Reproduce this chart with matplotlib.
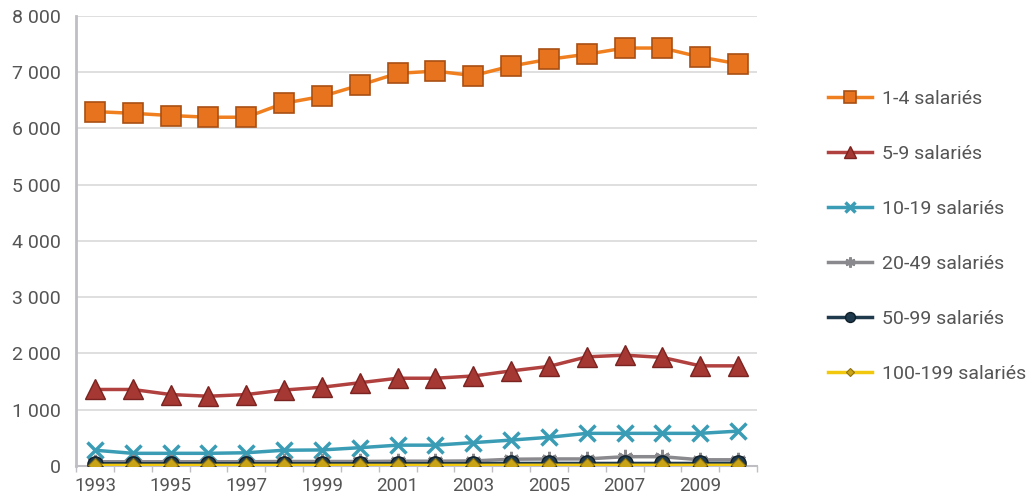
import numpy as np
import matplotlib
matplotlib.use("Agg")
import matplotlib.pyplot as plt
from matplotlib.ticker import FuncFormatter, MultipleLocator

plt.rcParams['font.family'] = ['Roboto', 'DejaVu Sans']

# Années et effectifs par tranche de salariés
annees = list(range(1993, 2011))
sal_1_4 = [6300, 6270, 6230, 6200, 6200, 6450, 6570, 6770, 6980,
           7020, 6940, 7110, 7230, 7320, 7430, 7430, 7270, 7150]
sal_5_9 = [1360, 1360, 1270, 1240, 1270, 1350, 1400, 1480, 1560,
           1560, 1600, 1690, 1770, 1940, 1970, 1930, 1780, 1780]
sal_10_19 = [280, 225, 225, 225, 235, 280, 285, 325, 370,
             370, 415, 460, 510, 580, 580, 580, 580, 620]
sal_20_49 = [75, 75, 75, 75, 75, 80, 80, 80, 85,
             85, 90, 120, 125, 125, 165, 165, 110, 110]
sal_50_99 = [40, 40, 40, 40, 40, 40, 40, 40, 40,
             40, 40, 45, 45, 45, 45, 45, 45, 45]
sal_100_199 = [10, 10, 10, 10, 10, 10, 10, 10, 10,
               10, 10, 12, 12, 12, 12, 12, 12, 12]

series = [
    ("1-4 salariés", sal_1_4, "#F0801F", dict(marker="s", ms=14, mfc="#E8731E", mec="#A84F14", mew=1.2)),
    ("5-9 salariés", sal_5_9, "#B0413F", dict(marker="^", ms=14, mfc="#A53833", mec="#7A2320", mew=1.0)),
    ("10-19 salariés", sal_10_19, "#3A9DB5", dict(marker="x", ms=11, mec="#3A9DB5", mew=2.5)),
    ("20-49 salariés", sal_20_49, "#8A8A8E", dict(marker=(6, 2, 0), ms=11, mec="#8A8A8E", mew=2.0)),
    ("50-99 salariés", sal_50_99, "#1E3A4C", dict(marker="o", ms=11, mfc="#1E3A4C", mec="#0F1F2A", mew=1.0)),
    ("100-199 salariés", sal_100_199, "#F2C80F", dict(marker="D", ms=7, mfc="#C9A417", mec="#8C7010", mew=0.8)),
]

fig = plt.figure(figsize=(10.36, 5.01), dpi=100)
ax = fig.add_axes([0.0734, 0.0699, 0.6573, 0.8982])

for label, vals, col, mk in series:
    ax.plot(annees, vals, color=col, lw=2.5, label=label, zorder=3, **mk)

ax.set_xlim(1992.5, 2010.5)
ax.set_ylim(0, 8000)

ax.yaxis.set_major_locator(MultipleLocator(1000))
ax.yaxis.set_major_formatter(FuncFormatter(lambda v, p: f"{int(v):,}".replace(",", " ")))
ax.set_xticks(range(1993, 2011, 2))
ax.set_xticks(np.arange(1992.5, 2011, 1), minor=True)

ax.grid(axis="y", color="#D9D9D9", lw=1.2, zorder=0)
for s in ["top", "right"]:
    ax.spines[s].set_visible(False)
ax.spines["left"].set_color("#BFBFC3")
ax.spines["left"].set_linewidth(2)
ax.spines["bottom"].set_color("#BFBFC3")
ax.spines["bottom"].set_linewidth(1.5)

ax.tick_params(axis="y", length=0, labelsize=14, labelcolor="#555555", pad=11)
ax.tick_params(axis="x", which="major", length=0, labelsize=13.5, labelcolor="#555555", pad=8)
ax.tick_params(axis="x", which="minor", length=4, color="#BFBFC3", width=1)

fig.legend(loc="upper left", bbox_to_anchor=(0.782, 0.855), frameon=False,
           fontsize=14, labelspacing=1.9, handlelength=2.3, handletextpad=0.5,
           labelcolor="#555555", markerscale=0.65)

fig.savefig("out.png", dpi=100)
